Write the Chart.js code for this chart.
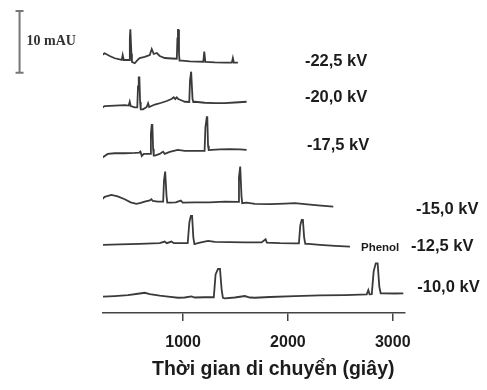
<!DOCTYPE html>
<html><head><meta charset="utf-8">
<script src="https://cdn.jsdelivr.net/npm/chart.js@4/dist/chart.umd.min.js"></script>
<style>html,body{margin:0;padding:0;background:#fff;}#wrap{width:487px;height:390px;position:relative;}</style>
</head><body><div id="wrap"><canvas id="c"></canvas></div>
<script>
// ---- DATA (time in s, absorbance in mAU relative to each trace's baseline) ----
const voltageLabels = ['-22,5 kV', '-20,0 kV', '-17,5 kV', '-15,0 kV', '-12,5 kV', '-10,0 kV'];
const peakLabel = 'Phenol';
const xTickValues = [1000, 2000, 3000];
const xTitle = 'Thời gian di chuyển (giây)';
const scaleBarText = '10 mAU';
const scaleBarMAU = 10;

const trace_22_5 = [[195,0.44],[252,1.09],[300,0.65],[348,0.28],[415,0],[424,0.81],[434,0],[486,0],[492,3.5],[497,4.98],[502,4.98],[507,1],[512,-0.3],[539,-0.53],[567,0],[586,0.32],[634,0.49],[682,0.81],[701,1.78],[720,0.97],[749,1.13],[777,0.65],[825,0.32],[892,0.24],[940,0.2],[946,3.5],[951,4.86],[956,4.86],[961,1],[966,-0.1],[988,-0.11],[1064,-0.24],[1193,-0.28],[1202,1.35],[1207,1.35],[1212,-0.3],[1303,-0.4],[1398,-0.44],[1465,-0.44],[1475,0.32],[1484,-0.44],[1523,-0.44]];
const trace_20_0 = [[204,-0.7],[252,-0.16],[348,-0.08],[443,0],[481,-0.08],[491,0.53],[500,-0.16],[539,-0.37],[563,-0.37],[570,3],[577,4.49],[583,4.49],[590,0.5],[596,-0.7],[618,-0.7],[653,-0.32],[666,0.28],[677,-0.32],[730,0.08],[794,0.37],[844,0.65],[889,0.97],[911,1.25],[925,0.97],[940,1.25],[954,0.97],[988,0.73],[1016,0.53],[1059,0.5],[1066,4],[1077,5.4],[1082,5.4],[1090,1],[1097,0.5],[1112,0.53],[1207,0.37],[1303,0.32],[1398,0.32],[1494,0.41],[1606,0.53]];
const trace_17_5 = [[221,-1.02],[281,-0.32],[348,-0.21],[443,-0.21],[539,-0.16],[582,-0.1],[593,0.05],[606,-0.65],[625,-0.32],[686,-0.3],[693,3],[701,4.38],[707,4.38],[714,0.5],[720,-0.6],[730,-0.6],[777,-0.32],[809,0.05],[825,-0.32],[873,0],[949,0.32],[1016,0.16],[1112,0.16],[1205,0.16],[1213,4],[1226,5.62],[1231,5.62],[1238,1],[1245,0.3],[1271,0.32],[1351,0.41],[1446,0.44],[1541,0.41],[1606,0.32]];
const trace_15_0 = [[221,0.32],[252,0.81],[316,1.13],[376,0.89],[443,0.44],[500,-0.08],[555,-0.32],[596,-0.16],[634,0.05],[682,0.24],[698,0.44],[711,0.16],[758,0.05],[810,0.05],[818,3.5],[829,4.91],[835,4.91],[842,1],[849,-0.1],[873,-0.11],[930,-0.08],[978,0.21],[997,-0.11],[1112,-0.08],[1255,-0.08],[1398,0.05],[1525,0],[1533,4],[1545,5.72],[1550,5.72],[1557,1],[1564,-0.2],[1606,-0.11],[1685,-0.32],[1828,-0.37],[1971,-0.29],[2067,-0.21],[2162,-0.37],[2287,-0.57],[2433,-0.76]];
const trace_12_5 = [[221,-0.16],[395,-0.08],[586,0],[777,0.11],[825,0.37],[844,0.11],[889,0.37],[911,0.11],[968,0.11],[1044,0.11],[1060,3.5],[1074,4.54],[1086,4.54],[1098,1],[1108,-0.05],[1112,0],[1160,0.19],[1239,0.49],[1303,0.32],[1446,0.28],[1589,0.24],[1749,0.24],[1787,0.76],[1799,0.21],[1923,0.11],[2067,0.08],[2105,0.08],[2118,3],[2132,3.89],[2143,3.89],[2155,1],[2166,0],[2194,0],[2306,-0.16],[2449,-0.32],[2592,-0.44]];
const trace_10_0 = [[236,-0.11],[348,0],[475,0.16],[586,0.41],[634,0.53],[682,0.32],[777,0.05],[857,-0.11],[952,-0.28],[1016,-0.24],[1080,-0.05],[1112,-0.24],[1207,-0.2],[1293,-0.2],[1310,3.5],[1333,4.38],[1352,4.38],[1368,1],[1380,-0.3],[1398,-0.37],[1494,-0.24],[1589,0],[1637,-0.24],[1685,-0.28],[1828,-0.16],[2067,0],[2306,0.11],[2545,0.16],[2688,0.24],[2752,0.28],[2767,0.97],[2779,0.28],[2800,0.3],[2818,4],[2838,5.3],[2856,5.3],[2872,1.5],[2885,0.45],[2910,0.44],[3022,0.41],[3101,0.44]];

// ---- LAYOUT (stacking offsets and annotation anchors, in axis units) ----
const traceOffsets = [41.0, 33.7, 26.1, 18.0, 11.2, 2.75];
const labelAnchors = [[2162,40.7],[2162,35.0],[2181,27.1],[3222,16.7],[3175,10.75],[3234,4.21]];
const phenolAnchor = [2697, 10.53];
const scaleBarAnchor = [-560, 38.95];
const titleAnchor = [1860, -9.1];

const traces = [trace_22_5, trace_20_0, trace_17_5, trace_15_0, trace_12_5, trace_10_0];
const datasets = traces.map((tr, i) => ({
  label: voltageLabels[i],
  data: tr.map(p => ({x: p[0], y: p[1] + traceOffsets[i]})),
  borderColor: '#3a3a3a',
  borderWidth: 1.8,
  pointRadius: 0,
  tension: 0,
  fill: false
}));

const annot = {
  id: 'annot',
  afterDraw(chart) {
    const {ctx, scales: {x, y}} = chart;
    ctx.save();
    ctx.fillStyle = '#1c1c1c';
    ctx.textBaseline = 'middle';
    ctx.textAlign = 'left';
    ctx.font = 'bold 16.5px "Liberation Sans", Arial, sans-serif';
    voltageLabels.forEach((t, i) => {
      ctx.fillText(t, x.getPixelForValue(labelAnchors[i][0]), y.getPixelForValue(labelAnchors[i][1]));
    });
    ctx.font = 'bold 11.5px "Liberation Sans", Arial, sans-serif';
    ctx.fillText(peakLabel, x.getPixelForValue(phenolAnchor[0]), y.getPixelForValue(phenolAnchor[1]));
    // axis title
    ctx.textAlign = 'center';
    ctx.font = 'bold 19.5px "Liberation Sans", Arial, sans-serif';
    ctx.fillText(xTitle, x.getPixelForValue(titleAnchor[0]), y.getPixelForValue(titleAnchor[1]));
    // scale bar
    const sx = x.getPixelForValue(scaleBarAnchor[0]);
    const y0 = y.getPixelForValue(scaleBarAnchor[1]);
    const y1 = y.getPixelForValue(scaleBarAnchor[1] + scaleBarMAU);
    ctx.strokeStyle = '#777';
    ctx.lineWidth = 2;
    ctx.beginPath();
    ctx.moveTo(sx, y0); ctx.lineTo(sx, y1);
    ctx.moveTo(sx - 4, y0); ctx.lineTo(sx + 4, y0);
    ctx.moveTo(sx - 4, y1); ctx.lineTo(sx + 4, y1);
    ctx.stroke();
    ctx.textAlign = 'left';
    ctx.fillStyle = '#333';
    ctx.font = 'bold 14px "Liberation Serif", "Times New Roman", serif';
    ctx.fillText(scaleBarText, sx + 7, (y0 + y1) / 2);
    ctx.restore();
  }
};

new Chart(document.getElementById('c'), {
  type: 'line',
  data: {datasets},
  plugins: [annot],
  options: {
    responsive: true,
    maintainAspectRatio: false,
    animation: false,
    devicePixelRatio: 1,
    layout: {padding: {left: 103, right: 82, top: 10, bottom: 25}},
    plugins: {legend: {display: false}, tooltip: {enabled: false}},
    scales: {
      x: {
        type: 'linear',
        min: 236, max: 3117,
        afterBuildTicks: (s) => { s.ticks = xTickValues.map(v => ({value: v})); },
        grid: {drawOnChartArea: false, drawTicks: true, tickLength: 8, color: '#444', lineWidth: 1.5},
        border: {display: true, color: '#444', width: 1.5},
        ticks: {
          color: '#1c1c1c', padding: 12.4, maxRotation: 0,
          font: {family: '"Liberation Sans", Arial, sans-serif', size: 16, weight: 'bold'},
          callback: (v) => String(v)
        },
        title: {display: false}
      },
      y: {type: 'linear', min: 0, max: 49.1, display: false}
    }
  }
});
</script></body></html>
